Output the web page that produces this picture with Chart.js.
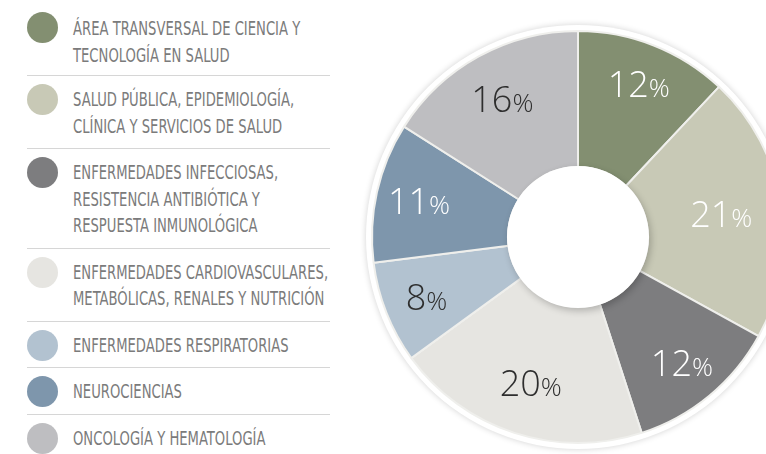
<!DOCTYPE html>
<html>
<head>
<meta charset="utf-8">
<script src="https://cdn.jsdelivr.net/npm/chart.js@4.4.1/dist/chart.umd.min.js"></script>
<style>
  html, body { margin: 0; padding: 0; background: #fff; }
  body { width: 766px; height: 454px; overflow: hidden; position: relative; }
  #legend { position: absolute; left: 27px; top: 0; width: 303px; }
  .row { position: relative; border-bottom: 1px solid #d6d6d6; padding: 10px 0 9px 46px; }
  .row:first-child { padding-top: 15px; padding-bottom: 7px; }
  .row:last-child { border-bottom: none; }
  .row .dot { position: absolute; left: 0; width: 31px; height: 31px; border-radius: 50%; top: 8px; }
  .row:first-child .dot { top: 12px; }
  .row .txt { font-family: "DejaVu Sans Condensed", "DejaVu Sans", sans-serif; font-size: 19px;
    line-height: 26.5px; color: #7b7b7b; white-space: nowrap;
    transform: scaleX(0.77); transform-origin: 0 50%; }
  #wrap { position: absolute; left: 358px; top: 17px; width: 440px; height: 440px; }
</style>
</head>
<body>
<div id="legend"></div>
<div id="wrap"><canvas id="pie"></canvas></div>
<script>
// ================================ data =============================
var categories = [
  "ÁREA TRANSVERSAL DE CIENCIA Y|TECNOLOGÍA EN SALUD",
  "SALUD PÚBLICA, EPIDEMIOLOGÍA,|CLÍNICA Y SERVICIOS DE SALUD",
  "ENFERMEDADES INFECCIOSAS,|RESISTENCIA ANTIBIÓTICA Y|RESPUESTA INMUNOLÓGICA",
  "ENFERMEDADES CARDIOVASCULARES,|METABÓLICAS, RENALES Y NUTRICIÓN",
  "ENFERMEDADES RESPIRATORIAS",
  "NEUROCIENCIAS",
  "ONCOLOGÍA Y HEMATOLOGÍA"
];
var shares = [12, 21, 12, 20, 8, 11, 16];

// ================================ styles =============================
var colors = ["#838f71", "#c8c9b6", "#7d7d7f", "#e6e5e1", "#b2c2d0", "#7e96ac", "#bebec1"];
var labelColors = ["#fff", "#fff", "#fff", "#2e2e2e", "#2e2e2e", "#fff", "#2e2e2e"];
var labelRadius = [165, 145, 163, 153, 163, 163, 157];

// legend built from the same arrays
var legend = document.getElementById("legend");
categories.forEach(function (c, i) {
  var row = document.createElement("div");
  row.className = "row";
  row.innerHTML = '<span class="dot" style="background:' + colors[i] + '"></span>' +
    '<div class="txt">' + c.split("|").join("<br>") + "</div>";
  legend.appendChild(row);
});

// white ring + raised hole + labels
var ringPlugin = {
  id: "ring",
  beforeDatasetsDraw: function (chart) {
    var arc = chart.getDatasetMeta(0).data[0];
    if (!arc) return;
    var c = chart.ctx;
    c.save();
    c.shadowColor = "rgba(0,0,0,0.18)";
    c.shadowBlur = 6;
    c.beginPath();
    c.arc(arc.x, arc.y, arc.outerRadius + 6, 0, Math.PI * 2);
    c.fillStyle = "#fff";
    c.fill();
    c.restore();
  },
  afterDatasetsDraw: function (chart) {
    var meta = chart.getDatasetMeta(0);
    var arc = meta.data[0];
    var c = chart.ctx;
    c.save();
    c.shadowColor = "rgba(0,0,0,0.22)";
    c.shadowBlur = 7;
    c.shadowOffsetX = 2;
    c.shadowOffsetY = 3;
    c.beginPath();
    c.arc(arc.x, arc.y, arc.innerRadius + 1, 0, Math.PI * 2);
    c.fillStyle = "#fff";
    c.fill();
    c.restore();

    // percentage labels
    meta.data.forEach(function (el, i) {
      var mid = (el.startAngle + el.endAngle) / 2;
      var x = el.x + Math.cos(mid) * labelRadius[i];
      var y = el.y + Math.sin(mid) * labelRadius[i];
      var num = String(shares[i]);
      c.save();
      c.fillStyle = labelColors[i];
      c.textBaseline = "alphabetic";
      c.font = "300 36px 'Open Sans', sans-serif";
      var w1 = c.measureText(num).width;
      c.font = "300 26px 'Open Sans', sans-serif";
      var w2 = c.measureText("%").width;
      var sx = x - (w1 + w2) / 2;
      c.textAlign = "left";
      c.font = "300 36px 'Open Sans', sans-serif";
      c.fillText(num, sx, y + 13);
      c.font = "300 26px 'Open Sans', sans-serif";
      c.fillText("%", sx + w1, y + 13);
      c.restore();
    });
  }
};

var ctx = document.getElementById("pie").getContext("2d");
var pie = new Chart(ctx, {
  type: "doughnut",
  data: {
    labels: categories,
    datasets: [
      {
        data: shares,
        backgroundColor: colors,
        borderColor: "#efefec",
        borderWidth: 2,
        hoverOffset: 0,
      },
    ],
  },
  options: {
    responsive: true,
    maintainAspectRatio: false,
    animation: false,
    radius: 206,
    cutout: "34%",
    layout: { padding: 0 },
    plugins: {
      legend: { display: false },
      tooltip: { enabled: false },
    },
  },
  plugins: [ringPlugin],
});
</script>
</body>
</html>
